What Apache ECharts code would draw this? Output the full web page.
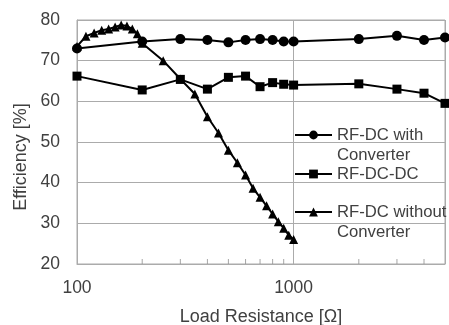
<!DOCTYPE html>
<html>
<head>
<meta charset="utf-8">
<script src="https://cdn.jsdelivr.net/npm/echarts@6/dist/echarts.min.js"></script>
<style>html,body{margin:0;padding:0;background:#fff}#c{width:449px;height:325px}</style>
</head>
<body>
<div id="c"></div>
<script>
const seriesNames = ['RF-DC with\nConverter', 'RF-DC-DC', 'RF-DC without\nConverter'];
const resistance = [100, 200, 300, 400, 500, 600, 700, 800, 900, 1000, 2000, 3000, 4000, 5000];
const withConverter = [73.0, 74.7, 75.3, 75.1, 74.5, 75.1, 75.3, 75.1, 74.7, 74.7, 75.3, 76.1, 75.1, 75.7];
const rfDcDc = [66.2, 62.8, 65.4, 63.0, 65.9, 66.2, 63.6, 64.6, 64.2, 64.0, 64.3, 63.0, 62.0, 59.5];
const resistanceNoConv = [100, 110, 120, 130, 140, 150, 160, 170, 180, 190, 200, 250, 300, 350, 400, 450, 500, 550, 600, 650, 700, 750, 800, 850, 900, 950, 1000];
const withoutConverter = [73.5, 76.0, 76.8, 77.5, 77.8, 78.3, 78.8, 78.5, 77.8, 76.6, 74.3, 70.0, 65.5, 61.8, 56.2, 52.2, 48.0, 44.9, 41.9, 38.6, 36.4, 34.3, 32.3, 30.4, 28.8, 27.1, 26.0];
const xTickLabels = [100, 1000];
const xMinorTicks = [200, 300, 400, 500, 600, 700, 800, 900, 2000, 3000, 4000];
const yTicks = [20, 30, 40, 50, 60, 70, 80];

const FONT = 'Liberation Sans, Arial, sans-serif';
const TXT = '#404040';
const GRID = '#ababab';

const zip = (xs, ys) => xs.map((x, i) => [x, ys[i]]);

const legendBase = {
  left: 294, orient: 'vertical', padding: 0,
  itemWidth: 37, itemHeight: 11, itemGap: 0,
  textStyle: { fontFamily: FONT, fontSize: 16.7, color: TXT, lineHeight: 20 }
};
// two-line names: a leading empty line keeps the first text line level with the icon
const twoLineFmt = name => '\n' + name;

const chart = echarts.init(document.getElementById('c'), null, { renderer: 'canvas' });
chart.setOption({
  animation: false,
  backgroundColor: '#fff',
  grid: { left: 77, right: 4, top: 20, bottom: 61, show: true, borderColor: GRID, borderWidth: 1, containLabel: false, outerBoundsMode: 'none' },
  legend: [
    Object.assign({}, legendBase, { top: 105, data: [seriesNames[0]], formatter: twoLineFmt }),
    Object.assign({}, legendBase, { top: 164, data: [seriesNames[1]] }),
    Object.assign({}, legendBase, { top: 182, data: [seriesNames[2]], formatter: twoLineFmt })
  ],
  xAxis: {
    type: 'log', logBase: 10, min: 100, max: 5000,
    name: 'Load Resistance [Ω]', nameLocation: 'middle', nameGap: 44,
    nameTextStyle: { fontFamily: FONT, fontSize: 18, color: TXT },
    axisLine: { show: true, lineStyle: { color: GRID, width: 1 } },
    axisTick: { show: false },
    axisLabel: {
      fontFamily: FONT, fontSize: 17.5, color: TXT, margin: 15,
      showMaxLabel: false,
      formatter: v => { const r = Math.round(v); return xTickLabels.includes(r) ? String(r) : ''; }
    },
    splitLine: { show: true, lineStyle: { color: GRID, width: 1 } }
  },
  yAxis: {
    type: 'value', min: yTicks[0], max: yTicks[yTicks.length - 1], interval: 10,
    name: 'Efficiency [%]', nameLocation: 'middle', nameGap: 40,
    nameTextStyle: { fontFamily: FONT, fontSize: 18, color: TXT, padding: [0, 30, 0, 0] },
    axisLine: { show: true, lineStyle: { color: GRID, width: 1 } },
    axisTick: { show: false },
    axisLabel: { fontFamily: FONT, fontSize: 17.5, color: TXT, margin: 17 },
    splitLine: { show: true, lineStyle: { color: GRID, width: 1 } }
  },
  series: [
    {
      name: seriesNames[2], type: 'line', data: zip(resistanceNoConv, withoutConverter),
      symbol: 'triangle', symbolSize: 9, showAllSymbol: true,
      lineStyle: { color: '#000', width: 2 }, itemStyle: { color: '#000' }, z: 3
    },
    {
      name: seriesNames[1], type: 'line', data: zip(resistance, rfDcDc),
      symbol: 'rect', symbolSize: 9, showAllSymbol: true,
      lineStyle: { color: '#000', width: 2 }, itemStyle: { color: '#000' }, z: 4
    },
    {
      name: seriesNames[0], type: 'line', data: zip(resistance, withConverter),
      symbol: 'circle', symbolSize: 10, showAllSymbol: true,
      lineStyle: { color: '#000', width: 2 }, itemStyle: { color: '#000' }, z: 5
    },
    {
      name: 'minorTicks', type: 'scatter', silent: true, clip: false,
      data: xMinorTicks.map(x => [x, yTicks[0]]),
      symbol: 'rect', symbolSize: [1, 5], symbolOffset: [0, -2.5],
      itemStyle: { color: '#909090' }, z: 1
    }
  ]
});
</script>
</body>
</html>
